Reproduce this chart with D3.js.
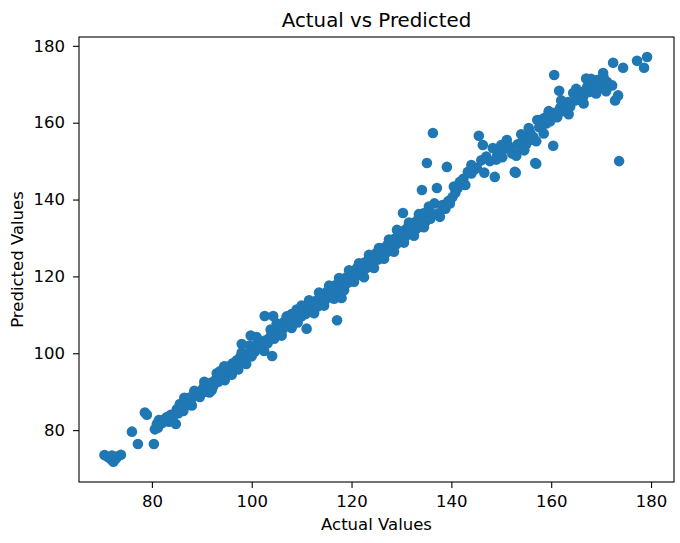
<!DOCTYPE html>
<html>
<head>
<meta charset="utf-8">
<script src="https://cdn.jsdelivr.net/npm/d3@7"></script>
<style>
  body { margin: 0; background: #fff; }
  text { font-family: "DejaVu Sans", sans-serif; fill: #000; }
</style>
</head>
<body>
<div id="chart"></div>
<script>
// actual / predicted pairs
const actualValues = [
  70.5, 71.2, 71.8, 72.3, 72.8, 73.2, 73.8, 72.0,
  76.0, 77.2, 78.6, 79.0, 80.4, 80.6, 81.0, 81.4, 81.2,
  82.0, 82.5, 83.0, 83.4, 83.8, 84.3, 84.8, 85.0, 85.3, 85.6, 86.0, 86.3, 86.8, 87.0, 87.4, 87.8,
  88.2, 88.5, 88.9, 89.3, 89.6, 90.0, 90.4, 90.8, 91.2, 91.5, 91.9, 92.3, 92.7, 93.0, 93.3, 93.7,
  94.0, 94.3, 94.6, 95.0, 95.4, 95.8, 96.2, 96.6, 97.0, 97.3, 97.7, 98.1, 98.5, 98.9, 99.2, 99.6,
  99.8, 98.0, 100.2, 100.6, 101.0, 101.5, 101.9, 102.3, 102.8, 103.2, 102.6, 104.3, 104.1,
  103.6, 104.0, 104.5, 104.9, 105.3, 105.7, 106.1, 106.5, 106.9, 107.3, 107.7, 108.0, 108.4, 108.8,
  109.2, 109.6, 110.0, 110.4, 110.8, 111.0, 111.2, 111.6, 112.0, 112.4, 112.8, 113.2, 113.6, 114.0,
  114.3, 114.7, 115.1, 115.5, 115.9, 116.2, 116.6, 117.0, 117.1, 117.4, 117.8, 118.0, 118.2, 118.6,
  119.0, 119.3, 119.7, 120.0, 120.4, 120.8, 121.1, 121.5, 121.9, 122.3, 122.6, 123.0, 123.4, 123.8,
  124.1, 124.5, 124.9, 125.3, 125.7, 126.0, 126.4, 126.8, 127.2, 127.5, 127.9, 128.3, 128.6, 129.0,
  129.1, 129.4, 129.8, 130.2, 130.3, 130.6, 131.0, 131.4, 131.8, 132.2, 132.6, 133.0, 133.4, 133.8,
  134.1, 134.4, 134.8, 135.1, 135.4, 135.8, 136.3, 136.6, 137.1, 137.4, 137.7, 138.2, 138.8, 139.1,
  139.4, 139.7, 140.2, 140.8, 141.3, 141.7, 142.4, 143.3, 144.0, 144.6, 145.1, 145.5, 146.3, 146.6,
  147.0, 147.7, 148.3, 148.7, 149.2, 149.6, 150.2, 150.6, 151.1, 151.7, 152.2, 152.7, 152.9, 153.3,
  153.7, 154.2, 154.6, 155.0, 155.4, 155.8, 156.2, 156.4, 156.8, 157.0, 157.2, 157.6, 157.8, 158.2,
  158.6, 159.0, 159.4, 159.8, 160.2, 160.4, 160.6, 160.8, 161.2, 161.6, 161.8, 162.2, 162.6, 163.0,
  163.4, 163.8, 164.4, 164.8, 165.2, 165.6, 166.0, 166.4, 167.0, 167.2, 167.6, 168.0, 168.4, 168.8,
  169.2, 169.6, 170.0, 170.4, 170.8, 171.2, 171.6, 172.2, 172.4, 172.8, 173.4, 173.6, 174.4, 177.2,
  178.6, 179.2,
  105.0, 106.0, 107.0, 108.0, 109.0, 110.0, 111.5, 112.5, 113.5, 114.5, 115.5, 116.5, 117.5, 118.5,
  119.5, 120.5, 121.5, 122.5, 123.5, 124.5, 125.5, 126.5, 127.5, 128.5, 129.5, 130.5, 131.5, 132.5,
  133.5, 134.5, 135.5, 136.0,
  162.0, 163.5, 165.0, 166.5, 168.0, 169.0, 170.5, 171.0, 155.5, 157.0, 158.5, 159.5, 154.0, 153.0,
  150.0, 149.0, 146.0, 144.0, 142.8, 140.5,
  86.5, 88.0, 90.5, 92.0, 94.5, 96.0, 98.0, 100.0, 101.0, 102.5, 103.8
];

const predictedValues = [
  73.5, 73.0, 72.4, 71.8, 72.6, 73.2, 73.6, 73.4,
  79.6, 76.4, 84.6, 84.0, 76.4, 80.2, 81.6, 82.6, 80.6,
  81.8, 82.8, 83.4, 82.2, 84.0, 83.6, 81.6, 85.4, 84.4, 86.8, 86.2, 85.0, 87.8, 86.6, 88.4, 87.2,
  88.8, 90.2, 89.0, 89.8, 88.6, 90.4, 91.2, 90.0, 91.8, 89.8, 92.4, 91.4, 93.0, 94.8, 92.6, 95.4,
  93.4, 94.4, 93.0, 95.8, 96.6, 95.2, 97.4, 96.0, 98.2, 95.8, 99.0, 97.6, 98.4, 97.2, 99.8, 102.0,
  104.6, 102.4, 101.0, 100.4, 102.2, 101.4, 103.0, 102.0, 103.4, 102.6, 109.7, 109.7, 99.3,
  104.0, 105.2, 103.8, 106.0, 105.0, 107.2, 106.0, 108.2, 107.0, 108.8, 107.4, 110.2, 108.6, 109.6,
  108.0, 110.8, 109.6, 111.6, 110.2, 106.4, 112.0, 110.8, 112.8, 111.6, 113.6, 112.2, 114.4, 113.0,
  115.2, 113.8, 116.0, 114.6, 116.8, 115.4, 117.6, 116.0, 108.6, 118.2, 116.8, 114.4, 119.0, 117.6,
  119.8, 118.4, 120.6, 119.2, 121.4, 120.0, 122.2, 120.6, 122.8, 121.4, 123.6, 122.2, 124.4, 122.8,
  125.0, 123.8, 126.0, 124.4, 126.8, 125.4, 127.4, 126.0, 128.2, 126.6, 129.0, 127.6, 129.8, 128.4,
  132.1, 130.6, 129.0, 131.4, 136.5, 130.0, 132.4, 131.0, 133.2, 131.6, 134.0, 132.4, 135.0, 133.0,
  142.5, 136.4, 134.2, 149.5, 137.0, 135.0, 157.3, 139.0, 143.0, 136.4, 135.5, 138.6, 137.6, 148.5,
  139.6, 139.0, 140.6, 141.8, 143.0, 144.6, 145.4, 147.2, 146.8, 147.8, 148.2, 156.6, 154.2, 147.0,
  151.2, 150.0, 153.4, 145.9, 151.6, 152.8, 151.0, 153.2, 155.5, 153.7, 152.0, 147.2, 147.0, 154.4,
  153.7, 155.0, 152.8, 154.4, 156.0, 157.4, 155.6, 156.3, 149.5, 149.3, 160.7, 158.8, 160.7, 159.4,
  161.2, 159.8, 162.0, 160.4, 161.6, 154.0, 172.4, 162.6, 161.4, 168.3, 163.9, 163.0, 164.6, 163.6,
  165.4, 164.2, 167.7, 165.8, 167.0, 166.0, 168.0, 166.8, 171.5, 169.3, 168.0, 169.6, 168.4, 170.2,
  171.1, 169.0, 170.6, 172.9, 169.4, 170.6, 169.8, 169.7, 175.6, 165.8, 167.1, 150.0, 174.3, 176.1,
  174.3, 177.1,
  107.8, 104.6, 109.6, 106.6, 111.4, 112.4, 113.8, 110.4, 115.8, 112.4, 117.6, 114.2, 119.6, 116.4,
  121.6, 118.6, 123.4, 119.8, 125.6, 122.2, 127.4, 124.6, 129.6, 126.4, 131.8, 128.8, 134.0, 130.6,
  136.2, 132.8, 138.2, 136.4,
  165.8, 162.2, 168.8, 165.0, 171.4, 167.6, 171.8, 168.2, 158.6, 155.2, 157.2, 163.0, 157.0, 151.4,
  154.2, 150.4, 150.2, 149.0, 143.8, 143.4,
  88.4, 86.4, 92.6, 90.4, 96.6, 94.4, 100.2, 99.2, 104.2, 100.6, 106.2
];

const xTicks = [80, 100, 120, 140, 160, 180];
const yTicks = [80, 100, 120, 140, 160, 180];

const points = actualValues.map((a, i) => ({ actual: a, predicted: predictedValues[i] }));

const width = 680;
const height = 543;
const plotLeft = 79;
const plotRight = 674;
const plotTop = 37;
const plotBottom = 482;

const svg = d3.select('#chart')
  .append('svg')
    .attr('width', width)
    .attr('height', height);

const xScale = d3.scaleLinear()
  .domain([65.4, 184.6])
  .range([plotLeft, plotRight]);

const yScale = d3.scaleLinear()
  .domain([66.5, 182.3])
  .range([plotBottom, plotTop]);

svg.append('g')
    .selectAll('circle')
    .data(points)
    .join('circle')
      .attr('cx', d => xScale(d.actual))
      .attr('cy', d => yScale(d.predicted))
      .attr('r', 5.3)
      .attr('fill', '#1f77b4');

// spines
svg.append('rect')
    .attr('x', plotLeft)
    .attr('y', plotTop)
    .attr('width', plotRight - plotLeft)
    .attr('height', plotBottom - plotTop)
    .attr('fill', 'none')
    .attr('stroke', '#000')
    .attr('stroke-width', 1.1);

const xAxis = svg.append('g')
    .attr('transform', `translate(0,${plotBottom})`)
    .call(d3.axisBottom(xScale).tickValues(xTicks).tickSize(6).tickPadding(7).tickFormat(d3.format('d')));

const yAxis = svg.append('g')
    .attr('transform', `translate(${plotLeft},0)`)
    .call(d3.axisLeft(yScale).tickValues(yTicks).tickSize(6).tickPadding(8).tickFormat(d3.format('d')));

[xAxis, yAxis].forEach(ax => {
  ax.select('.domain').remove();
  ax.selectAll('.tick line').attr('stroke', '#000').attr('stroke-width', 1.1);
  ax.selectAll('.tick text')
    .attr('font-family', '"DejaVu Sans", sans-serif')
    .attr('font-size', 16.5)
    .attr('fill', '#000');
});

svg.append('text')
    .attr('x', (plotLeft + plotRight) / 2)
    .attr('y', 27)
    .attr('text-anchor', 'middle')
    .attr('font-size', 19.8)
    .text('Actual vs Predicted');

svg.append('text')
    .attr('x', (plotLeft + plotRight) / 2)
    .attr('y', 530)
    .attr('text-anchor', 'middle')
    .attr('font-size', 16.5)
    .text('Actual Values');

svg.append('text')
    .attr('transform', `translate(23,${(plotTop + plotBottom) / 2}) rotate(-90)`)
    .attr('text-anchor', 'middle')
    .attr('font-size', 16.5)
    .text('Predicted Values');
</script>
</body>
</html>
